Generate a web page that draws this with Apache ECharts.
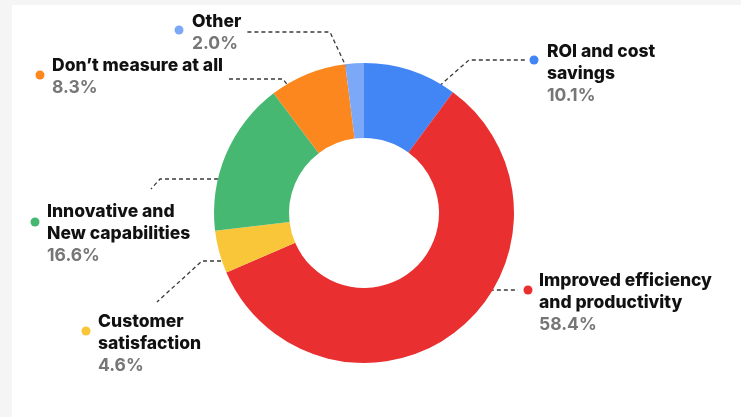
<!DOCTYPE html>
<html>
<head>
<meta charset="utf-8">
<script src="https://cdn.jsdelivr.net/npm/echarts@6/dist/echarts.min.js"></script>
<style>
  html, body { margin: 0; padding: 0; width: 741px; height: 417px; background: #f5f5f5; overflow: hidden; }
  #card { position: absolute; left: 12px; top: 5px; right: 0; bottom: 0; background: #fff; }
  #chart { position: absolute; left: 0; top: 0; width: 741px; height: 417px; }
</style>
</head>
<body>
<div id="card"></div>
<div id="chart"></div>
<script>
// How success is measured (share of respondents, %)
const categories = [
  'ROI and cost\nsavings',
  'Improved efficiency\nand productivity',
  'Customer\nsatisfaction',
  'Innovative and\nNew capabilities',
  'Don\u2019t measure at all',
  'Other'
];
const shares = [10.1, 58.4, 4.6, 16.6, 8.3, 2.0];
const colors = ['#4285F4', '#E92F2F', '#F9C63A', '#46B872', '#FD871F', '#7BA9F7'];

// Ring geometry
const CX = 364, CY = 213, R_IN = 75, R_OUT = 150;
const LINE_H = 22;
const FONT = 'Inter';

// Label placement: text left edge and first-line middle, dot centre,
// where the leader enters the ring (fraction of the slice angle, radius),
// then the leader's bend and end points.
const placement = [
  { tx: 547, ty: 51.5, dot: [534, 60],  enter: [0.793, 134.7], path: [[469, 60],  [527, 60]] },
  { tx: 539, ty: 280.5, dot: [528, 290], enter: [0.428, 130.2], path: [[500, 290], [518, 290]] },
  { tx: 98,  ty: 321.5, dot: [86, 331],  enter: [0.18, 137.6],  path: [[202, 261], [157, 302]] },
  { tx: 47,  ty: 211.5, dot: [35, 222],  enter: [0.369, 129.5], path: [[160, 179], [151, 189]] },
  { tx: 52,  ty: 66,    dot: [40, 75],   enter: [0.227, 136.7], path: [[283, 79],  [227, 79]] },
  { tx: 192, ty: 21.5,  dot: [179, 30],  enter: [0.19, 138.7],  path: [[330, 32],  [245, 32]] }
];

const total = shares.reduce((a, b) => a + b, 0);

// Point inside slice i where its leader line begins (pie starts at 12 o'clock, clockwise)
function leaderStart(i) {
  let before = 0;
  for (let j = 0; j < i; j++) before += shares[j];
  const a0 = before / total * 360;
  const span = shares[i] / total * 360;
  const [t, r] = placement[i].enter;
  const ang = (a0 + span * t) * Math.PI / 180;
  return [CX + r * Math.sin(ang), CY - r * Math.cos(ang)];
}

const dotRich = {};
colors.forEach((c, i) => {
  dotRich['d' + i] = { width: 9, height: 9, borderRadius: 4.5, backgroundColor: c };
});

const chart = echarts.init(document.getElementById('chart'), null, { renderer: 'canvas' });

chart.setOption({
  backgroundColor: 'transparent',
  animation: false,
  series: [
    {
      type: 'pie',
      center: [CX, CY],
      radius: [R_IN, R_OUT],
      startAngle: 90,
      clockwise: true,
      avoidLabelOverlap: false,
      itemStyle: { borderWidth: 0 },
      emphasis: { disabled: true },
      label: {
        show: true,
        position: 'outside',
        formatter: p => categories[p.dataIndex].split('\n').map(s => '{n|' + s + '}').join('\n') +
          '\n{p|' + shares[p.dataIndex].toFixed(1) + '%}',
        rich: {
          n: { fontFamily: FONT, fontWeight: 800, fontSize: 17.5, lineHeight: LINE_H, color: '#111111' },
          p: { fontFamily: FONT, fontWeight: 700, fontSize: 17.5, lineHeight: LINE_H, color: '#767676' }
        }
      },
      labelLine: {
        show: true,
        smooth: false,
        lineStyle: { color: '#3a3a3a', width: 1.3, type: [4, 3] }
      },
      labelLayout: p => {
        const L = placement[p.dataIndex];
        return {
          x: L.tx,
          y: L.ty - LINE_H / 2,
          align: 'left',
          verticalAlign: 'top',
          labelLinePoints: [leaderStart(p.dataIndex), L.path[0], L.path[1]]
        };
      },
      data: shares.map((v, i) => ({ value: v, name: categories[i], itemStyle: { color: colors[i] } }))
    },
    {
      // Colour dots beside each label
      type: 'pie',
      center: [CX, CY],
      radius: [R_IN, R_OUT],
      startAngle: 90,
      clockwise: true,
      silent: true,
      avoidLabelOverlap: false,
      itemStyle: { color: 'transparent', borderWidth: 0 },
      emphasis: { disabled: true },
      label: {
        show: true,
        position: 'outside',
        formatter: p => '{d' + p.dataIndex + '| }',
        rich: dotRich
      },
      labelLine: { show: false },
      labelLayout: p => ({
        x: placement[p.dataIndex].dot[0],
        y: placement[p.dataIndex].dot[1],
        align: 'center',
        verticalAlign: 'middle'
      }),
      data: shares.map((v, i) => ({ value: v, name: categories[i] }))
    }
  ]
});
</script>
</body>
</html>
